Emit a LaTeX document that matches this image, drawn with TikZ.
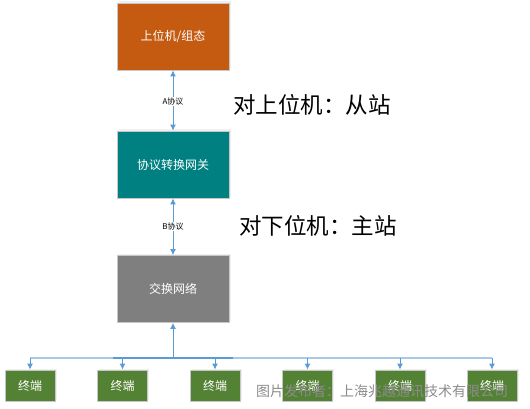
\documentclass[tikz,border=0pt]{standalone}
\usepackage{fontspec}
\setmainfont{Noto Sans CJK SC}
\usetikzlibrary{arrows.meta, shadows}
\definecolor{hostorange}{HTML}{C55A11}
\definecolor{gwteal}{HTML}{008080}
\definecolor{netgray}{HTML}{7F7F7F}
\definecolor{termgreen}{HTML}{548235}
\definecolor{linkblue}{HTML}{5B9BD5}
\definecolor{buslight}{HTML}{A9C8E8}
\tikzset{
	box/.style = {draw=black!22, line width=0.8pt, text=white, inner sep=0pt,
			minimum width=112pt, minimum height=67pt, font=\fontsize{12}{14}\selectfont,
			drop shadow={opacity=0.12, shadow xshift=1.5pt, shadow yshift=1.5pt}},
	term/.style = {box, fill=termgreen, minimum width=50pt, minimum height=31pt},
	link/.style = {draw=linkblue, line width=1pt},
	proto/.style = {fill=white, inner sep=1pt, font=\fontsize{8}{9}\selectfont},
	role/.style = {font=\fontsize{22.5}{24}\selectfont}
}

\begin{document}
\begin{tikzpicture}[x=1pt, y=-1pt]
					\useasboundingbox (0,0) rectangle (530,409);
					% ====== Boxes ========
					\node[box, fill=hostorange] (host) at (173,36.5) {上位机/组态};
					\node[box, fill=gwteal] (gw) at (173,164.5) {协议转换网关};
					\node[box, fill=netgray] (net) at (173,289) {交换网络};
					\coordinate (bus) at (173,358);
					\foreach \i/\x in {1/30, 2/122.5, 3/215, 4/307.5, 5/400, 6/492} {
						\node[term] (t\i) at (\x,385.5) {终端};
					}
					% ====== Links ========
					\draw[link, {Latex[length=6pt,width=6pt]}-{Latex[length=6pt,width=6pt]}] (host.south) -- (gw.north) node[proto, pos=0.52] {A协议};
					\draw[link, {Latex[length=6pt,width=6pt]}-{Latex[length=6pt,width=6pt]}] (gw.south) -- (net.north) node[proto, pos=0.5] {B协议};
					\draw[link, -{Latex[length=6pt,width=6pt]}] (bus) -- (net.south);
					\draw[buslight, line width=1.2pt] (t1 |- bus) -- (t6 |- bus);
					\draw[linkblue, line width=1.2pt] (bus) -- ++(-60,0) (bus) -- ++(60,0);
					\foreach \i in {1,...,6} {
						\draw[link, -{Latex[length=6pt,width=6pt]}] (t\i |- bus) -- (t\i.north);
					}
					% ====== Roles ========
					\node[role] (upper) at (312,105) {对上位机：从站};
					\node[role] (lower) at (318,226) {对下位机：主站};
					\node[text=black!45, font=\fontsize{14}{16}\selectfont] (mark) at (382,391) {图片发布者：上海兆越通讯技术有限公司};
\end{tikzpicture}
\end{document}
